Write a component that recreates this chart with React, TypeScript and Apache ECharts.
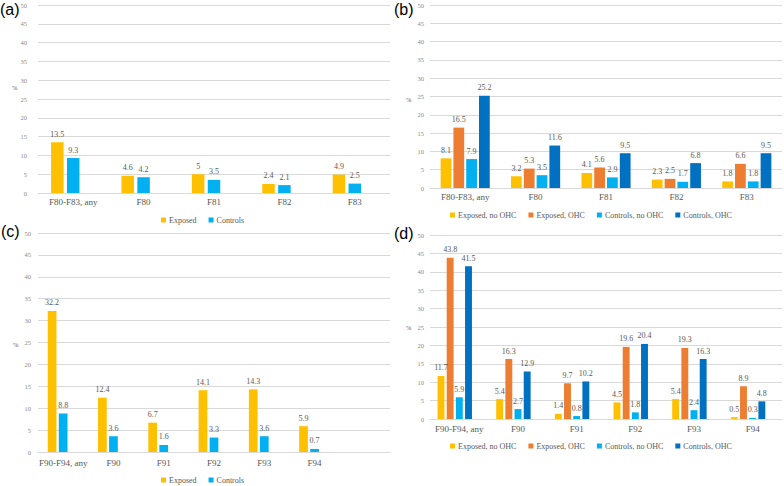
import React, { useEffect, useRef } from "react";
import * as echarts from "echarts";

const catsF8 = ["F80-F83, any", "F80", "F81", "F82", "F83"];
const catsF9 = ["F90-F94, any", "F90", "F91", "F92", "F93", "F94"];
const catsF9c = ["F90-F94, any", "F90", "F91", "F92", "F93", "F94", ""];

const aExposed = [13.5, 4.6, 5, 2.4, 4.9];
const aControls = [9.3, 4.2, 3.5, 2.1, 2.5];

const bExpNo = [8.1, 3.2, 4.1, 2.3, 1.8];
const bExpOHC = [16.5, 5.3, 5.6, 2.5, 6.6];
const bCtlNo = [7.9, 3.5, 2.9, 1.7, 1.8];
const bCtlOHC = [25.2, 11.6, 9.5, 6.8, 9.5];

const cExposed = [32.2, 12.4, 6.7, 14.1, 14.3, 5.9];
const cControls = [8.8, 3.6, 1.6, 3.3, 3.6, 0.7];

const dExpNo = [11.7, 5.4, 1.4, 4.5, 5.4, 0.5];
const dExpOHC = [43.8, 16.3, 9.7, 19.6, 19.3, 8.9];
const dCtlNo = [5.9, 2.7, 0.8, 1.8, 2.4, 0.3];
const dCtlOHC = [41.5, 12.9, 10.2, 20.4, 16.3, 4.8];

const names2 = ["Exposed", "Controls"];
const names4 = ["Exposed, no OHC", "Exposed, OHC", "Controls, no OHC", "Controls, OHC"];

const YELLOW = "#FFC000";
const ORANGE = "#ED7D31";
const LBLUE = "#00B0F0";
const DBLUE = "#0070C0";

const SERIF = "Liberation Serif";
const SANS = "Liberation Sans";

export default function App() {
  const ref = useRef<HTMLDivElement>(null);
  useEffect(() => {
    if (!ref.current) return;
    const chart = echarts.init(ref.current, undefined, { renderer: "svg" });

    const grids = [
      { left: 38, top: 5, width: 352, height: 188 },
      { left: 430, top: 5, width: 352, height: 183 },
      { left: 38, top: 233, width: 352, height: 219 },
      { left: 430, top: 235, width: 352, height: 184 },
    ];
    const catLists = [catsF8, catsF8, catsF9c, catsF9];
    const xMargins = [4, 4, 6, 5];
    const yMargins = [11, 6, 7, 6];

    const xAxis = catLists.map((c, i) => ({
      type: "category",
      gridIndex: i,
      data: c,
      axisLine: { show: true, lineStyle: { color: "#d9d9d9" } },
      axisTick: { show: false },
      axisLabel: {
        color: "#595959",
        fontSize: 9,
        fontFamily: SERIF,
        margin: xMargins[i],
        interval: 0,
      },
    }));
    const yAxis = grids.map((_, i) => ({
      type: "value",
      gridIndex: i,
      min: 0,
      max: 50,
      interval: 5,
      axisLine: { show: false },
      axisTick: { show: false },
      splitLine: { lineStyle: { color: "#d9d9d9", width: 1 } },
      axisLabel: {
        color: "#8a8a8a",
        fontSize: 6.5,
        fontFamily: SERIF,
        margin: yMargins[i],
      },
    }));

    const label = {
      show: true,
      position: "top",
      distance: 4,
      color: "#595959",
      fontSize: 8,
      fontFamily: SERIF,
    };

    const mk = (name: string, data: (number | null)[], color: string, idx: number, bw: number, gap: string) => ({
      name,
      type: "bar",
      xAxisIndex: idx,
      yAxisIndex: idx,
      data,
      barWidth: bw,
      barGap: gap,
      itemStyle: { color },
      label,
    });

    const series = [
      mk("Exposed", aExposed, YELLOW, 0, 12.5, "27%"),
      mk("Controls", aControls, LBLUE, 0, 12.5, "27%"),
      { ...mk("padA", [], "transparent", 0, 12.5, "27%"), label: { show: false } },

      mk(names4[0], bExpNo, YELLOW, 1, 10.75, "19%"),
      mk(names4[1], bExpOHC, ORANGE, 1, 10.75, "19%"),
      mk(names4[2], bCtlNo, LBLUE, 1, 10.75, "19%"),
      mk(names4[3], bCtlOHC, DBLUE, 1, 10.75, "19%"),

      mk("Exposed", cExposed, YELLOW, 2, 8.7, "27%"),
      mk("Controls", cControls, LBLUE, 2, 8.7, "27%"),
      { ...mk("padC", [], "transparent", 2, 8.7, "27%"), label: { show: false } },

      mk(names4[0], dExpNo, YELLOW, 3, 6.9, "33%"),
      mk(names4[1], dExpOHC, ORANGE, 3, 6.9, "33%"),
      mk(names4[2], dCtlNo, LBLUE, 3, 6.9, "33%"),
      mk(names4[3], dCtlOHC, DBLUE, 3, 6.9, "33%"),
      { ...mk("padD", [], "transparent", 3, 6.9, "33%"), label: { show: false } },
    ];

    const legendBase = {
      icon: "rect",
      itemWidth: 5,
      itemHeight: 5,
      itemGap: 12,
      selectedMode: false,
      padding: 0,
      textStyle: { color: "#595959", fontSize: 8, fontFamily: SERIF, padding: [0, 0, 0, -2] },
    };
    const legend = [
      { ...legendBase, data: names2, left: 161, top: 216 },
      { ...legendBase, data: names4, left: 450, top: 211 },
      { ...legendBase, data: names2, left: 161, top: 476 },
      { ...legendBase, data: names4, left: 450, top: 442 },
    ];

    const panelLabel = (t: string, x: number, y: number) => ({
      type: "text",
      x,
      y,
      style: { text: t, fontSize: 16, fontFamily: SANS, fill: "#000", textVerticalAlign: "middle" },
    });
    const pct = (x: number, y: number) => ({
      type: "text",
      x,
      y,
      style: { text: "%", fontSize: 6.5, fontFamily: SERIF, fill: "#595959", textVerticalAlign: "middle" },
    });

    chart.setOption({
      animation: false,
      backgroundColor: "#fff",
      textStyle: { fontFamily: SERIF },
      grid: grids,
      xAxis,
      yAxis,
      legend,
      series,
      graphic: [
        panelLabel("(a)", 0, 9.5),
        panelLabel("(b)", 394, 9.5),
        panelLabel("(c)", 1, 231),
        panelLabel("(d)", 394, 233.5),
        pct(12, 87),
        pct(406, 99),
        pct(13, 344),
        pct(406, 327),
      ],
    });
    return () => chart.dispose();
  }, []);
  return (
    <div
      ref={ref}
      style={{ position: "fixed", left: 0, top: 0, width: 784, height: 486, background: "#fff" }}
    />
  );
}
